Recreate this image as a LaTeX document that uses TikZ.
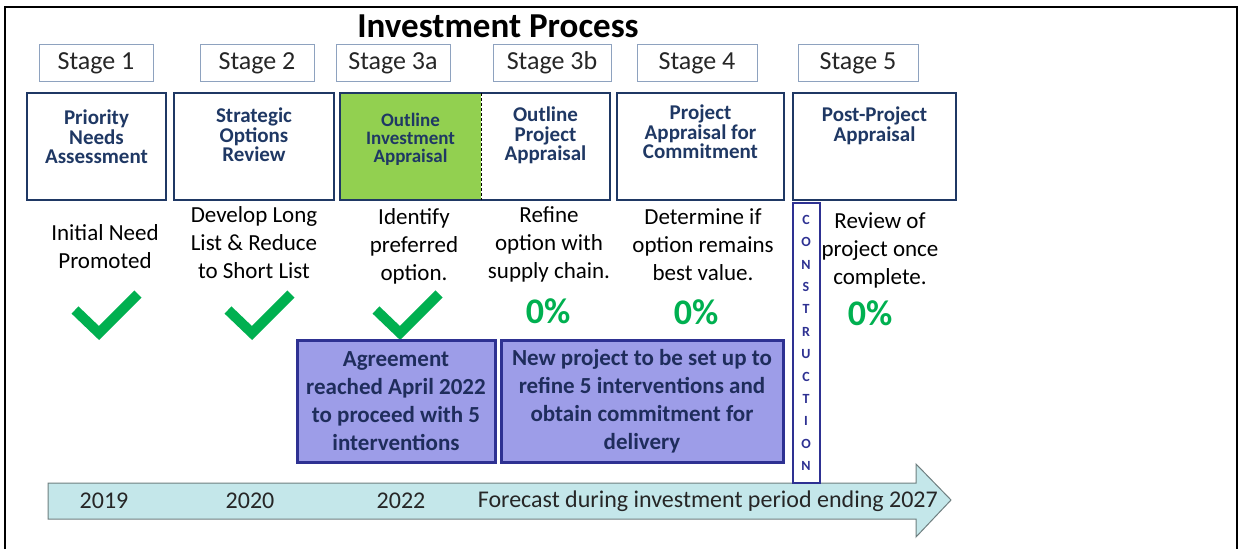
\documentclass[tikz,border=0pt]{standalone}
\usepackage{fontspec}
\setmainfont{Carlito}
\usepackage{xcolor}
\usetikzlibrary{positioning}
\definecolor{boxnavy}{HTML}{1F3864}
\definecolor{tickgreen}{HTML}{00B050}
\definecolor{fillgreen}{HTML}{92D050}
\definecolor{lavender}{HTML}{9D9DE8}
\definecolor{indigo}{HTML}{2E3192}
\definecolor{notenavy}{HTML}{1F2D5C}
\definecolor{tlcyan}{HTML}{C4E7EA}
\definecolor{tlgray}{HTML}{6F7F80}
\definecolor{lblgray}{HTML}{8EA2BF}

\tikzset{
  stagelbl/.style={draw=lblgray,line width=1pt,minimum width=114pt,minimum height=37pt,inner sep=0pt,
    font=\fontsize{26}{30}\selectfont,text=black!85},
  stagebox/.style={draw=boxnavy,line width=2.5pt,minimum height=107pt,inner sep=0pt},
  boxtxt/.style={align=center,text=boxnavy,inner sep=0pt,font=\bfseries\fontsize{21}{19.5}\selectfont},
  desctxt/.style={align=center,inner sep=0pt,font=\fontsize{23}{28}\selectfont},
  pct/.style={text=tickgreen,inner sep=0pt,font=\bfseries\fontsize{36}{40}\selectfont},
  notebox/.style={draw=indigo,fill=lavender,line width=3pt,minimum height=122pt,align=center,
    text=notenavy,font=\bfseries\fontsize{23}{28}\selectfont},
  tltxt/.style={inner sep=0pt,text=black!85,font=\fontsize{24}{28}\selectfont}
}

\begin{document}
\begin{tikzpicture}[x=1pt,y=-1pt]
  \useasboundingbox (0,0) rectangle (1239,549);
  % frame of the cell
  \draw[line width=1.8pt] (5,549) -- (5,7) -- (1237,7) -- (1237,549);

  \node[font=\bfseries\fontsize{35}{40}\selectfont,anchor=base] (title) at (498,37) {Investment Process};

  % stage labels
  \node[stagelbl] (s1) at (96,63) {Stage 1};
  \node[stagelbl] (s2) at (257,63) {Stage 2};
  \node[stagelbl] (s3a) at (393,63) {Stage 3a};
  \node[stagelbl,minimum width=118pt] (s3b) at (552,63) {Stage 3b};
  \node[stagelbl,minimum width=120pt] (s4) at (697,63) {Stage 4};
  \node[stagelbl,minimum width=120pt] (s5) at (858,63) {Stage 5};

  % stage boxes
  \node[stagebox,minimum width=139pt] (b1) at (96.5,146.5) {};
  \node[stagebox,minimum width=160pt] (b2) at (254,146.5) {};
  \node[fill=fillgreen,minimum width=141pt,minimum height=107pt,inner sep=0pt] (b3a) at (410.5,146.5) {};
  \node[minimum width=129pt,minimum height=107pt,inner sep=0pt] (b3b) at (545.5,146.5) {};
  \draw[boxnavy,line width=2.5pt] (b3a.north west) rectangle (b3b.south east);
  \draw[black,thick,dash pattern=on 3pt off 2pt] (b3a.north east) -- (b3a.south east);
  \node[stagebox,minimum width=167pt] (b4) at (700.5,146.5) {};
  \node[stagebox,minimum width=163pt] (b5) at (874.5,146.5) {};

  \node[boxtxt,below=18pt of b1.north] (t1) {Priority\\Needs\\Assessment};
  \node[boxtxt,below=16pt of b2.north] (t2) {Strategic\\Options\\Review};
  \node[boxtxt,below=20pt of b3a.north,font=\bfseries\fontsize{19}{18}\selectfont] (t3a) {Outline\\Investment\\Appraisal};
  \node[boxtxt,below=14pt of b3b.north] (t3b) {Outline\\Project\\Appraisal};
  \node[boxtxt,below=13pt of b4.north] (t4) {Project\\Appraisal for\\Commitment};
  \node[boxtxt,below=15pt of b5.north] (t5) {Post-Project\\Appraisal};

  % what each stage does
  \node[desctxt,anchor=north] (d1) at (105,224) {Initial Need\\Promoted};
  \node[desctxt,anchor=north] (d2) at (254,206) {Develop Long\\List \& Reduce\\to Short List};
  \node[desctxt,anchor=north] (d3a) at (414,208) {Identify\\preferred\\option.};
  \node[desctxt,anchor=north] (d3b) at (549,206) {Refine\\option with\\supply chain.};
  \node[desctxt,anchor=north] (d4) at (703,208) {Determine if\\option remains\\best value.};
  \node[desctxt,anchor=north] (d5) at (880,212) {Review of\\project once\\complete.};

  % progress
  \foreach \x in {99,252,400}{
    \draw[tickgreen,line width=10pt,line join=miter] (\x-24,310) -- (\x,333) -- (\x+39,294);
  }
  \node[pct] (p3b) at (548,311) {0\%};
  \node[pct] (p4) at (696,312) {0\%};
  \node[pct] (p5) at (870,313) {0\%};

  % timeline
  \draw[tlgray,fill=tlcyan,line width=1pt] (48,483) -- (916,483) -- (916,464) -- (951,500)
    -- (916,537) -- (916,519) -- (48,519) -- cycle;
  \node[tltxt] (y19) at (104,501) {2019};
  \node[tltxt] (y20) at (250,501) {2020};
  \node[tltxt] (y22) at (401,501) {2022};
  \node[tltxt,anchor=east] (fc) at (938,501) {Forecast during investment period ending 2027};

  \node[draw=indigo,fill=white,line width=2pt,minimum width=27pt,minimum height=280pt,inner sep=0pt,
    align=center,text=indigo,font=\bfseries\fontsize{14}{22.4}\selectfont] (con) at (806,343)
    {C\\O\\N\\S\\T\\R\\U\\C\\T\\I\\O\\N};

  % notes
  \node[notebox,minimum width=198pt] (na) at (396,401) {Agreement\\reached April 2022\\to proceed with 5\\interventions};
  \node[notebox,minimum width=282pt] (nb) at (642,401) {New project to be set up to\\refine 5 interventions and\\obtain commitment for\\delivery};
\end{tikzpicture}
\end{document}
